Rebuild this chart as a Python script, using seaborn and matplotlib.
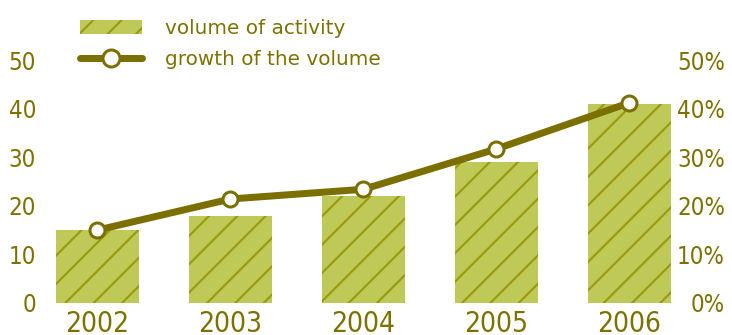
import matplotlib
matplotlib.use("Agg")
import matplotlib.pyplot as plt
import seaborn as sns
import pandas as pd
from matplotlib.patches import Patch
from matplotlib.lines import Line2D
from matplotlib import font_manager

# Data
years = ["2002", "2003", "2004", "2005", "2006"]
volume = [15, 18, 22, 29, 41]            # volume of activity (left axis)
growth = [15, 21.4, 23.4, 31.7, 41.2]    # growth of the volume, % (right axis)
left_ticks = [0, 10, 20, 30, 40, 50]
right_ticks = [0, 10, 20, 30, 40, 50]
right_labels = ["0%", "10%", "20%", "30%", "40%", "50%"]
series_labels = ["volume of activity", "growth of the volume"]

# Colours
TEXT = "#7d7200"
LINE = "#7b6f00"
BAR = "#bfc957"
HATCH = "#9a9c10"

DPI = 170
W, H = 732, 335


def pt(px):
    """Convert a pixel size to points at the output resolution."""
    return px * 72 / DPI


sns.set_theme(style="white")
plt.rcParams["font.family"] = ["DejaVu Sans"]
plt.rcParams["hatch.linewidth"] = pt(2.2)
plt.rcParams["hatch.color"] = HATCH

# Narrow face for the numbers, if one is installed
fonts = font_manager.fontManager.ttflist
names = {f.name for f in fonts}
num_kw = {"fontfamily": "DejaVu Sans"}
if any(f.name == "DejaVu Sans" and "condensed" in str(f.stretch) for f in fonts):
    num_kw = {"fontfamily": "DejaVu Sans", "fontstretch": "condensed"}
else:
    for cand in ["Liberation Sans Narrow", "Roboto Condensed", "Open Sans Condensed", "Roboto"]:
        if cand in names:
            num_kw = {"fontfamily": cand}
            break

df = pd.DataFrame({"year": years, "volume": volume, "growth": growth})

fig = plt.figure(figsize=(W / DPI, H / DPI), dpi=DPI)
ax = fig.add_axes([48 / W, 32 / H, (680 - 48) / W, (303 - 60) / H])

sns.barplot(data=df, x="year", y="volume", ax=ax, color=BAR, saturation=1,
            width=0.62, hatch="//", edgecolor=HATCH, linewidth=0)

ax2 = ax.twinx()
sns.pointplot(data=df, x="year", y="growth", ax=ax2, color=LINE, errorbar=None,
              markers="o", linestyles="-", markersize=pt(15), linewidth=pt(7),
              markerfacecolor="white", markeredgewidth=pt(3))

for a in (ax, ax2):
    a.set_xlim(-0.372, 4.38)
    a.set_ylim(0, 50)
    a.set_xlabel("")
    a.set_ylabel("")
    for s in a.spines.values():
        s.set_visible(False)

ax.set_yticks(left_ticks, labels=[str(v) for v in left_ticks],
              fontsize=pt(24), color=TEXT, **num_kw)
ax.tick_params(axis="y", length=0, pad=pt(12))
ax.set_xticks(range(len(years)), labels=years,
              fontsize=pt(28), color=TEXT, **num_kw)
ax.tick_params(axis="x", length=0, pad=pt(7))

ax2.set_yticks(right_ticks, labels=right_labels,
               fontsize=pt(24), color=TEXT, **num_kw)
ax2.tick_params(axis="y", length=0, pad=pt(45))
for t in ax2.get_yticklabels():
    t.set_horizontalalignment("right")

handles = [
    Patch(facecolor=BAR, edgecolor=HATCH, hatch="//", linewidth=0),
    Line2D([], [], color=LINE, lw=pt(7), marker="o", ms=pt(17),
           mfc="white", mew=pt(3)),
]
fs = 20
fig.legend(handles, series_labels, loc="upper left",
           bbox_to_anchor=(80 / W, 1 - 18.5 / H), frameon=False,
           fontsize=pt(fs), handlelength=62 / fs, handleheight=14 / fs,
           handletextpad=23 / fs, labelspacing=0.62, borderpad=0,
           borderaxespad=0, labelcolor=TEXT)

fig.savefig("out.png", dpi=DPI)
